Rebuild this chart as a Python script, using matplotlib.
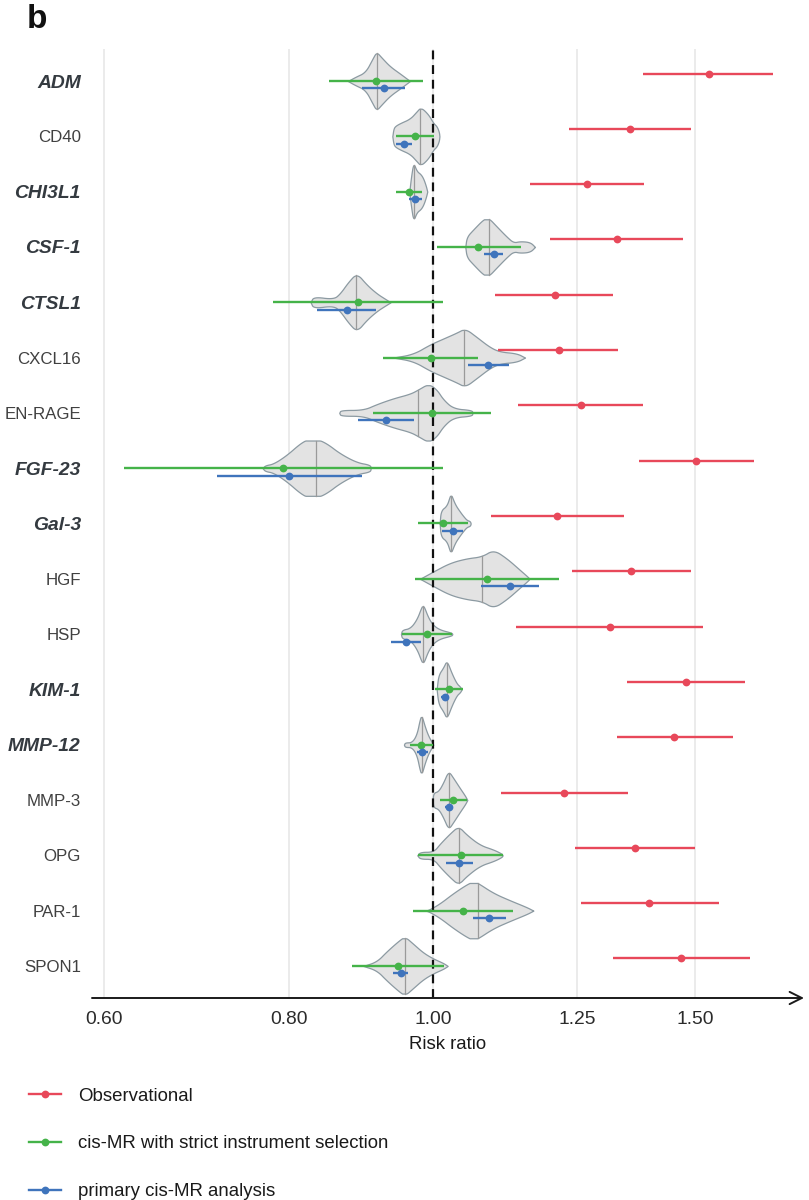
import numpy as np
import matplotlib
matplotlib.use("Agg")
import matplotlib.pyplot as plt
from matplotlib import font_manager
from matplotlib.lines import Line2D
from matplotlib.ticker import NullLocator

proteins = ['ADM', 'CD40', 'CHI3L1', 'CSF-1', 'CTSL1', 'CXCL16', 'EN-RAGE', 'FGF-23', 'Gal-3',
            'HGF', 'HSP', 'KIM-1', 'MMP-12', 'MMP-3', 'OPG', 'PAR-1', 'SPON1']
highlight = [True, False, True, True, True, False, False, True, True,
             False, False, True, True, False, False, False, False]

# observational
obs_est = [1.532, 1.356, 1.269, 1.329, 1.207, 1.215, 1.257, 1.503, 1.211,
           1.358, 1.315, 1.480, 1.452, 1.224, 1.367, 1.397, 1.468]
obs_lo = [1.384, 1.234, 1.161, 1.199, 1.101, 1.106, 1.141, 1.375, 1.093,
          1.239, 1.137, 1.350, 1.329, 1.110, 1.245, 1.257, 1.321]
obs_hi = [1.693, 1.491, 1.386, 1.473, 1.321, 1.332, 1.384, 1.644, 1.344,
          1.491, 1.519, 1.622, 1.590, 1.352, 1.500, 1.557, 1.633]

# cis-MR with strict instrument selection
strict_est = [0.9155, 0.9725, 0.9625, 1.0722, 0.8894, 0.9964, 0.998, 0.7926, 1.0156,
              1.0861, 0.9907, 1.0251, 0.9816, 1.0315, 1.0433, 1.0476, 0.9472]
strict_lo = [0.851, 0.944, 0.944, 1.0062, 0.7804, 0.9254, 0.9112, 0.6195, 0.977,
             0.972, 0.9521, 1.0026, 0.9645, 1.0104, 0.977, 0.9685, 0.882]
strict_hi = [0.9836, 1.0015, 0.982, 1.1449, 1.0146, 1.0722, 1.0929, 1.0146, 1.0557,
             1.2156, 1.0288, 1.0476, 0.999, 1.0541, 1.1134, 1.132, 1.0167]

# primary cis-MR analysis
prim_est = [0.926, 0.9555, 0.9725, 1.0986, 0.8743, 1.089, 0.9293, 0.800, 1.0304,
            1.1262, 0.9585, 1.0183, 0.9826, 1.0246, 1.0406, 1.0907, 0.9507]
prim_lo = [0.896, 0.944, 0.9625, 1.0822, 0.8355, 1.0546, 0.8903, 0.7148, 1.013,
           1.0767, 0.9365, 1.0119, 0.9745, 1.0183, 1.0198, 1.064, 0.940]
prim_hi = [0.957, 0.967, 0.9825, 1.1146, 0.915, 1.1244, 0.971, 0.8949, 1.0476,
           1.1785, 0.981, 1.0251, 0.9923, 1.0288, 1.0629, 1.1186, 0.962]

# violin outlines: risk ratio positions and relative half-widths
violin_x = [
    [0.876, 0.886, 0.900, 0.910, 0.9155, 0.923, 0.935, 0.950, 0.9645],
    [0.9385, 0.940, 0.9423, 0.9496, 0.9645, 0.9745, 0.9806, 0.9923, 1.0, 1.0052, 1.0088, 1.0095],
    [0.9635, 0.966, 0.9695, 0.9745, 0.9805, 0.9846, 0.9885, 0.9907],
    [1.0508, 1.053, 1.064, 1.0806, 1.089, 1.1031, 1.1203, 1.132, 1.1437, 1.1616, 1.1706],
    [0.8269, 0.8303, 0.8564, 0.8654, 0.8766, 0.888, 0.9018, 0.916, 0.9278, 0.936],
    [0.940, 0.9695, 0.9948, 1.0156, 1.0368, 1.0503, 1.0695, 1.0918, 1.1088, 1.1378, 1.1526],
    [0.8644, 0.8662, 0.8972, 0.916, 0.940, 0.9645, 0.977, 0.9923, 1.0052, 1.0156, 1.0315, 1.0612, 1.0627],
    [0.7676, 0.7704, 0.7804, 0.7967, 0.8133, 0.8239, 0.8346, 0.8476, 0.8654, 0.888, 0.9065, 0.9076],
    [1.0099, 1.0115, 1.0209, 1.0261, 1.0278, 1.0342, 1.0422, 1.0476, 1.053, 1.0585, 1.0596],
    [0.9795, 1.0, 1.0261, 1.053, 1.0778, 1.0974, 1.1203, 1.1437, 1.1586, 1.1604],
    [0.9511, 0.9526, 0.9645, 0.9745, 0.9821, 0.9846, 0.9923, 1.0, 1.0104, 1.0288, 1.0299],
    [1.0052, 1.0078, 1.0156, 1.0209, 1.0288, 1.0368, 1.0422, 1.0449],
    [0.9555, 0.957, 0.967, 0.9745, 0.9795, 0.9821, 0.9872, 0.9923, 0.9974, 1.0],
    [0.999, 1.0, 1.0078, 1.0156, 1.0235, 1.0315, 1.0422, 1.0503, 1.0541],
    [0.9755, 0.9795, 1.0, 1.0104, 1.0261, 1.0395, 1.053, 1.075, 1.0974, 1.1117, 1.1134],
    [0.9887, 0.9948, 1.0104, 1.0315, 1.053, 1.064, 1.0711, 1.0974, 1.1262, 1.1556, 1.1677],
    [0.8972, 0.916, 0.9302, 0.9496, 0.957, 0.9695, 0.9846, 1.0, 1.0156, 1.0225],
]
violin_w = [
    [0, 0.14, 0.3, 0.76, 1.0, 0.8, 0.5, 0.25, 0],
    [0, 0.25, 0.35, 0.45, 0.6, 0.85, 1.0, 0.75, 0.45, 0.35, 0.15, 0],
    [0, 0.5, 1.0, 0.7, 0.6, 0.45, 0.2, 0],
    [0, 0.35, 0.6, 0.95, 1.0, 0.7, 0.35, 0.15, 0.2, 0.17, 0],
    [0, 0.2, 0.11, 0.3, 0.7, 1.0, 0.6, 0.3, 0.12, 0],
    [0, 0.12, 0.45, 0.65, 0.85, 1.0, 0.7, 0.35, 0.2, 0.15, 0],
    [0, 0.1, 0.1, 0.3, 0.5, 0.65, 0.8, 1.0, 0.8, 0.45, 0.15, 0.1, 0],
    [0, 0.1, 0.15, 0.45, 0.85, 1.0, 1.0, 0.85, 0.5, 0.2, 0.12, 0],
    [0, 0.45, 0.6, 0.95, 1.0, 0.65, 0.4, 0.25, 0.12, 0.08, 0],
    [0, 0.25, 0.55, 0.7, 0.76, 1.0, 0.7, 0.3, 0.05, 0],
    [0, 0.15, 0.2, 0.5, 0.95, 1.0, 0.55, 0.3, 0.15, 0.05, 0],
    [0, 0.5, 0.75, 1.0, 0.55, 0.2, 0.1, 0],
    [0, 0.08, 0.08, 0.35, 0.9, 1.0, 0.6, 0.3, 0.1, 0],
    [0, 0.25, 0.3, 0.6, 1.0, 0.75, 0.4, 0.15, 0],
    [0, 0.12, 0.12, 0.4, 0.75, 1.0, 0.7, 0.35, 0.2, 0.06, 0],
    [0, 0.05, 0.25, 0.6, 0.9, 1.0, 0.95, 0.6, 0.35, 0.12, 0],
    [0, 0.15, 0.5, 0.9, 1.0, 0.75, 0.45, 0.25, 0.1, 0],
]
violin_median = [0.917, 0.9795, 0.9705, 1.0895, 0.8871, 1.0487, 0.976, 0.8338, 1.0278,
                 1.0778, 0.9846, 1.0209, 0.9826, 1.0246, 1.0406, 1.0711, 0.957]

x_ticks = [0.60, 0.80, 1.00, 1.25, 1.50]
x_tick_labels = ['0.60', '0.80', '1.00', '1.25', '1.50']
series_names = ['Observational', 'cis-MR with strict instrument selection', 'primary cis-MR analysis']
series_colors = ['#E8485A', '#45B349', '#3F74BC']


def chaikin(x, y, n=3):
    # corner cutting to round the outline, ends kept in place
    for _ in range(n):
        qx = 0.75 * x[:-1] + 0.25 * x[1:]
        rx = 0.25 * x[:-1] + 0.75 * x[1:]
        qy = 0.75 * y[:-1] + 0.25 * y[1:]
        ry = 0.25 * y[:-1] + 0.75 * y[1:]
        x = np.concatenate([[x[0]], np.column_stack([qx, rx]).ravel(), [x[-1]]])
        y = np.concatenate([[y[0]], np.column_stack([qy, ry]).ravel(), [y[-1]]])
    return x, y


installed = {f.name for f in font_manager.fontManager.ttflist}
if 'Liberation Sans Narrow' in installed:
    font, k = 'Liberation Sans Narrow', 1.0
else:
    font, k = 'Liberation Sans', 0.84
plt.rcParams['font.family'] = [font, 'DejaVu Sans']

fig = plt.figure(figsize=(8.09, 12), dpi=100)
ax = fig.add_axes([92 / 809, 1 - 998 / 1200, 712 / 809, 949 / 1200])
ax.set_xscale('log')
ax.set_xlim(0.5893, 1.776)
ax.set_ylim(16.58, -0.579)

for t in x_ticks:
    ax.axvline(t, color='#E6E6E6', lw=1.1, zorder=0)

H = 0.53
for i in range(len(proteins)):
    lx, w = chaikin(np.log(violin_x[i]), np.array(violin_w[i], dtype=float))
    xs = np.exp(lx)
    ws = np.minimum(w * H, 0.5)
    ax.fill_between(xs, i - ws, i + ws, facecolor='#E3E3E3', edgecolor='#8C9AA2',
                    lw=0.9, zorder=2)
    h = np.interp(violin_median[i], xs, ws)
    ax.plot([violin_median[i]] * 2, [i - h, i + h], color='#9A9A9A', lw=0.9, zorder=2.5)

ax.axvline(1.0, color='#111111', lw=1.6, ls=(0, (4, 2.6)), zorder=3)

groups = [(obs_est, obs_lo, obs_hi), (strict_est, strict_lo, strict_hi), (prim_est, prim_lo, prim_hi)]
offsets = [-0.135, 0.0, 0.135]
for (est, lo, hi), off, col in zip(groups, offsets, series_colors):
    for i in range(len(proteins)):
        y = i + off
        ax.plot([lo[i], hi[i]], [y, y], color=col, lw=1.7, solid_capstyle='butt', zorder=4)
        ax.plot(est[i], y, 'o', ms=5.6, color=col, mec='none', zorder=5)

for s in ax.spines.values():
    s.set_visible(False)
ax.annotate('', xy=(1.0, 0.0), xytext=(0.0, 0.0), xycoords='axes fraction',
            arrowprops=dict(arrowstyle='->', color='#1A1A1A', lw=1.4, mutation_scale=22,
                            shrinkA=0, shrinkB=0), annotation_clip=False, zorder=6)

ax.set_xticks(x_ticks)
ax.set_xticklabels(x_tick_labels, fontsize=16.5 * k, color='#2B2B2B')
ax.xaxis.set_minor_locator(NullLocator())
ax.tick_params(axis='x', length=0, pad=9)
ax.set_xlabel('Risk ratio', fontsize=16 * k, color='#1A1A1A', labelpad=6)

ax.set_yticks(range(len(proteins)))
ax.set_yticklabels(proteins)
ax.tick_params(axis='y', length=0, pad=8)
for lab, hl in zip(ax.get_yticklabels(), highlight):
    if hl:
        lab.set_fontsize(16.5 * k)
        lab.set_fontweight('bold')
        lab.set_fontstyle('italic')
        lab.set_color('#343a40')
    else:
        lab.set_fontsize(14.5 * k)
        lab.set_color('#404040')

fig.text(27 / 809, 1 - 28 / 1200, 'b', fontsize=24, fontweight='bold', color='#111111',
         family='Liberation Sans', ha='left', va='baseline')

handles = [Line2D([0], [0], color=c, lw=1.7, marker='o', ms=5.6, mec='none') for c in series_colors]
fig.legend(handles, series_names, loc='upper left', bbox_to_anchor=(22 / 809, 1 - 1080 / 1200),
           frameon=False, fontsize=16 * k, handlelength=1.7, handletextpad=0.9,
           labelspacing=1.65, borderaxespad=0, labelcolor='#1A1A1A')

fig.savefig('out.png', dpi=100)
